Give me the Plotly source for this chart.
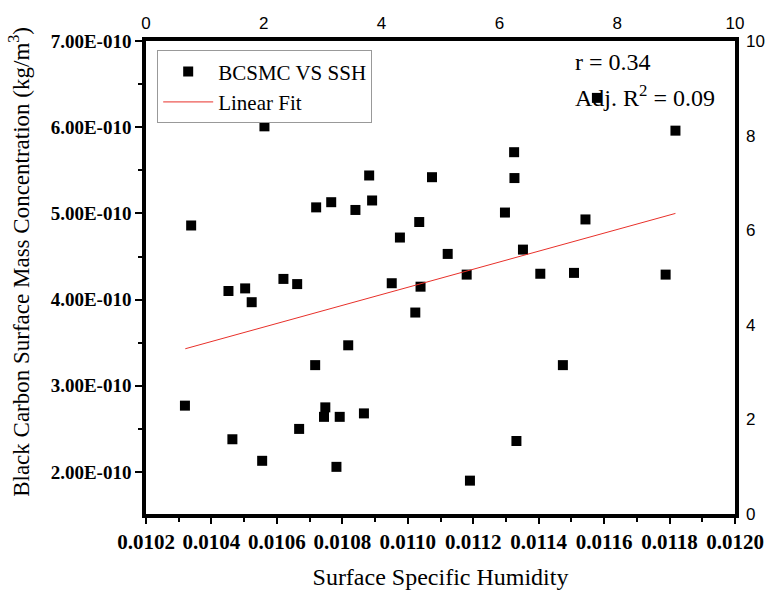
import plotly.graph_objects as go

# Data
ssh = [0.010319, 0.010338, 0.010452, 0.010464, 0.010503, 0.010523, 0.010562, 0.010555,
       0.010620, 0.010662, 0.010668, 0.010717, 0.010720, 0.010744, 0.010748, 0.010766,
       0.010782, 0.010792, 0.010818, 0.010840, 0.010866, 0.010882, 0.010891, 0.010951,
       0.010976, 0.011023, 0.011035, 0.011039, 0.011074, 0.011122, 0.011180, 0.011190,
       0.011297, 0.011325, 0.011326, 0.011332, 0.011352, 0.011405, 0.011474, 0.011508,
       0.011543, 0.011788, 0.011818, 0.011578]
bcsmc = [2.77, 4.86, 4.10, 2.38, 4.13, 3.97, 6.01, 2.13,
         4.24, 4.18, 2.50, 3.24, 5.07, 2.64, 2.75, 5.13,
         2.06, 2.64, 3.47, 5.04, 2.68, 5.44, 5.15, 4.19,
         4.72, 3.85, 4.90, 4.15, 5.42, 4.53, 4.29, 1.90,
         5.01, 5.71, 5.41, 2.36, 4.58, 4.30, 3.24, 4.31,
         4.93, 4.29, 5.96, 6.34]
bcsmc = [v * 1e-10 for v in bcsmc]

fit_x = [0.010320, 0.011818]
fit_y = [3.43e-10, 5.00e-10]

x_tick_vals = [0.0102, 0.0104, 0.0106, 0.0108, 0.0110, 0.0112, 0.0114, 0.0116, 0.0118, 0.0120]
x_tick_text = ["0.0102", "0.0104", "0.0106", "0.0108", "0.0110", "0.0112", "0.0114", "0.0116", "0.0118", "0.0120"]
y_tick_vals = [2e-10, 3e-10, 4e-10, 5e-10, 6e-10, 7e-10]
y_tick_text = ["2.00E-010", "3.00E-010", "4.00E-010", "5.00E-010", "6.00E-010", "7.00E-010"]
sec_tick_vals = [0, 2, 4, 6, 8, 10]

SERIF = "Liberation Serif, Times New Roman, serif"
SANS = "Liberation Sans, Arial, sans-serif"

fig = go.Figure()
fig.add_trace(go.Scatter(
    x=ssh, y=bcsmc, mode="markers", name="BCSMC VS SSH",
    marker=dict(symbol="square", size=10, color="black", line=dict(width=0)),
))
fig.add_trace(go.Scatter(
    x=fit_x, y=fit_y, mode="lines", name="Linear Fit",
    line=dict(color="#e8302a", width=1),
))
fig.add_trace(go.Scatter(x=[], y=[], xaxis="x2", yaxis="y2", showlegend=False, hoverinfo="skip"))

fig.update_layout(
    width=772, height=592,
    margin=dict(l=146, r=37, t=41, b=78),
    paper_bgcolor="white", plot_bgcolor="white",
    showlegend=True,
    legend=dict(
        x=0.019, y=0.98, xanchor="left", yanchor="top",
        bordercolor="#999999", borderwidth=1, bgcolor="white",
        font=dict(family=SERIF, size=21, color="black"),
        tracegroupgap=0, itemwidth=50,
    ),
    xaxis=dict(
        range=[0.0102, 0.0120], tickmode="array", tickvals=x_tick_vals, ticktext=x_tick_text,
        showline=True, linecolor="black", linewidth=3.5, mirror=True, automargin=False,
        ticks="outside", ticklen=6, tickwidth=2, tickcolor="black",
        minor=dict(dtick=0.0001, tick0=0.0102, ticks="outside", ticklen=4, tickwidth=2, tickcolor="black"),
        showgrid=False, zeroline=False, ticklabelstandoff=0,
        tickfont=dict(family=SERIF, size=21, color="black", weight="bold"),
        title=dict(text="Surface Specific Humidity", font=dict(family=SERIF, size=24, color="black"), standoff=16),
    ),
    yaxis=dict(
        range=[1.513e-10, 7.0e-10], tickmode="array", tickvals=y_tick_vals, ticktext=y_tick_text,
        showline=True, linecolor="black", linewidth=3.5, mirror=True, automargin=False,
        ticks="outside", ticklen=7, tickwidth=2, tickcolor="black",
        minor=dict(dtick=0.5e-10, tick0=0, ticks="outside", ticklen=4, tickwidth=2, tickcolor="black"),
        showgrid=False, zeroline=False,
        tickfont=dict(family=SERIF, size=19, color="black", weight="bold"),
    ),
    xaxis2=dict(
        overlaying="x", side="top", range=[0, 10], tickmode="array", tickvals=sec_tick_vals,
        showline=False, ticks="", showgrid=False, zeroline=False, ticklabelstandoff=8, automargin=False,
        tickfont=dict(family=SANS, size=17, color="black"),
    ),
    yaxis2=dict(
        overlaying="y", side="right", range=[0, 10], tickmode="array", tickvals=sec_tick_vals,
        showline=False, ticks="", showgrid=False, zeroline=False, ticklabelstandoff=10, automargin=False,
        tickfont=dict(family=SANS, size=17, color="black"),
    ),
    annotations=[
        dict(text="Black Carbon Surface Mass Concentration (kg/m<sup>3</sup>)",
             xref="paper", yref="paper", x=-0.214, y=0.533, textangle=-90,
             xanchor="center", yanchor="middle", showarrow=False,
             font=dict(family=SERIF, size=23, color="black")),
        dict(text="r = 0.34", xref="paper", yref="paper", x=0.725, y=0.955,
             xanchor="left", yanchor="middle", showarrow=False,
             font=dict(family=SERIF, size=24, color="black")),
        dict(text="Adj. R<sup>2</sup> = 0.09", xref="paper", yref="paper", x=0.725, y=0.883,
             xanchor="left", yanchor="middle", showarrow=False,
             font=dict(family=SERIF, size=24, color="black")),
    ],
)

fig.write_html("out.html")
